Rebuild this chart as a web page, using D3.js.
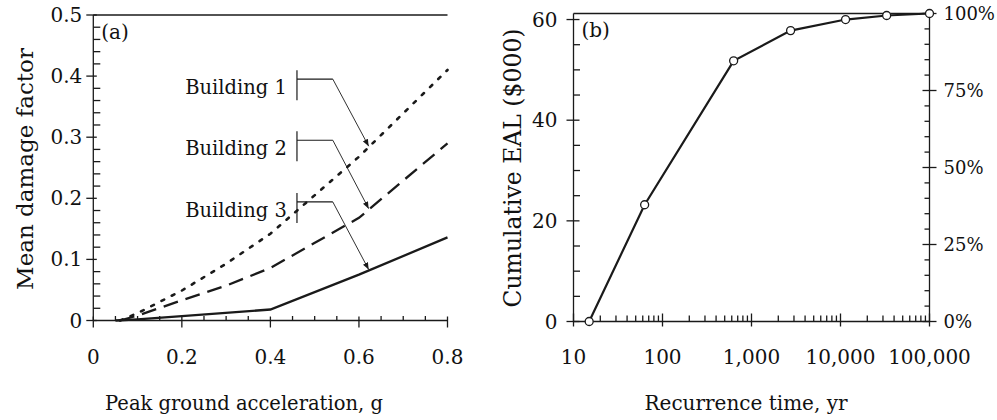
<!DOCTYPE html>
<html><head><meta charset="utf-8">
<script src="https://cdn.jsdelivr.net/npm/d3@7"></script>
<style>
body{margin:0;background:#fff}
text{font-family:"DejaVu Serif",serif;fill:#111}
</style></head><body>
<svg id="c" width="997" height="420"></svg>
<script>
// ---- data ----
const pgaB1 = [0.06, 0.1, 0.2, 0.3, 0.4, 0.6, 0.8];
const mdfB1 = [0, 0.012, 0.049, 0.093, 0.142, 0.268, 0.41];
const pgaB2 = [0.06, 0.1, 0.2, 0.3, 0.4, 0.6, 0.8];
const mdfB2 = [0, 0.008, 0.033, 0.057, 0.086, 0.168, 0.29];
const pgaB3 = [0.05, 0.1, 0.2, 0.4, 0.6, 0.8];
const mdfB3 = [0, 0.002, 0.007, 0.018, 0.075, 0.136];
const buildingLabels = ["Building 1", "Building 2", "Building 3"];
const recurrence = [15, 63, 630, 2750, 11400, 33000, 100000];
const cumEAL = [0, 23.2, 51.8, 57.8, 60.0, 60.8, 61.2];
const xTicksA = [0, 0.2, 0.4, 0.6, 0.8];
const yTicksA = [0, 0.1, 0.2, 0.3, 0.4, 0.5];
const xTicksB = [10, 100, 1000, 10000, 100000];
const yTicksB = [0, 20, 40, 60];
const pctTicks = [0, 25, 50, 75, 100];

const svg = d3.select("#c");
const ink = "#1a1a1a";

// ---- scales ----
const xA = d3.scaleLinear([0, 0.8], [93.3, 447.5]);
const yA = d3.scaleLinear([0, 0.5], [320.5, 15]);
const xB = d3.scaleLog([10, 100000], [573.5, 929.5]);
const yB = d3.scaleLinear([0, 61.2], [321.5, 13.5]);
const pB = d3.scaleLinear([0, 100], [321.5, 13.5]);

function line(x1, y1, x2, y2, w) {
  svg.append("line").attr("x1", x1).attr("y1", y1).attr("x2", x2).attr("y2", y2)
    .attr("stroke", ink).attr("stroke-width", w || 1.3);
}
function yTicks(scale, vals, xpos, dir, out, inn) {
  vals.forEach(v => line(xpos + dir * out, scale(v), xpos - dir * inn, scale(v)));
}
function xTicks(scale, vals, ypos, out, inn) {
  vals.forEach(v => line(scale(v), ypos + out, scale(v), ypos - inn));
}
function txt(x, y, s, anchor, size) {
  return svg.append("text").attr("x", x).attr("y", y).attr("text-anchor", anchor)
    .attr("font-size", size).text(s);
}

// ================= Panel (a) =================
const minorA_y = d3.range(0, 0.5001, 0.02).filter(v => Math.abs(v * 10 - Math.round(v * 10)) > 1e-6);
const minorA_x = d3.range(0, 0.8001, 0.05).filter(v => Math.abs(v * 5 - Math.round(v * 5)) > 1e-6);
line(xA(0), yA(0), xA(0), yA(0.5));
line(xA(0), yA(0.5), xA(0.8), yA(0.5));
line(xA(0), yA(0), xA(0.8), yA(0));
yTicks(yA, yTicksA, xA(0), -1, 7, 3.5);
yTicks(yA, minorA_y, xA(0), -1, 0, 7);
xTicks(xA, xTicksA, yA(0), 7, 4);
xTicks(xA, minorA_x, yA(0), 0, 4.5);
yTicksA.forEach(v => txt(xA(0) - 11, yA(v), v === 0 ? "0" : d3.format(".1f")(v), "end", 20).attr("dy", "0.35em"));
xTicksA.forEach(v => txt(xA(v), 357, v === 0 ? "0" : d3.format(".1f")(v), "middle", 20).attr("dy", "0.35em"));
txt(xA(0) + 8, 32, "(a)", "start", 20).attr("dy", "0.35em");

const seriesA = [
  {x: pgaB1, y: mdfB1, dash: "3,8.5", w: 2.6},
  {x: pgaB2, y: mdfB2, dash: "15,8", w: 2.3},
  {x: pgaB3, y: mdfB3, dash: null, w: 2.3}
];
const lineA = d3.line().x(d => xA(d[0])).y(d => yA(d[1]));
seriesA.forEach(s => {
  svg.append("path").attr("d", lineA(d3.zip(s.x, s.y))).attr("fill", "none")
    .attr("stroke", ink).attr("stroke-width", s.w)
    .attr("stroke-dasharray", s.dash).attr("stroke-linecap", s.dash && s.dash.startsWith("3") ? "round" : "butt");
});

// annotations (positions in data units of panel a)
svg.append("defs").append("marker").attr("id", "ah").attr("viewBox", "0 0 10 10")
  .attr("refX", 10).attr("refY", 5).attr("markerWidth", 7).attr("markerHeight", 7)
  .attr("orient", "auto").attr("markerUnits", "userSpaceOnUse")
  .append("path").attr("d", "M0,1 L10,5 L0,9 z").attr("fill", ink);
const bracketY = [0.395, 0.295, 0.194];
const bracketX = 0.46, elbowX = 0.541, tipX = 0.622;
seriesA.forEach((s, i) => {
  const by = yA(bracketY[i]);
  const tipY = yA(d3.scaleLinear(s.x, s.y)(tipX));
  line(xA(bracketX), by - 9, xA(bracketX), by + 21, 1.2);
  line(xA(bracketX), by, xA(elbowX), by, 1.2);
  svg.append("line").attr("x1", xA(elbowX)).attr("y1", by).attr("x2", xA(tipX)).attr("y2", tipY - 1)
    .attr("stroke", ink).attr("stroke-width", 0.9).attr("marker-end", "url(#ah)");
  txt(xA(bracketX) - 10, by + 15, buildingLabels[i], "end", 19.5);
});

// axis titles
txt(244, 410, "Peak ground acceleration, g", "middle", 19.5);
txt(0, 0, "Mean damage factor", "middle", 23).attr("transform", "translate(33,169) rotate(-90)");

// ================= Panel (b) =================
line(xB(10), yB(0), xB(10), pB(100));
line(xB(10), pB(100), xB(100000), pB(100));
line(xB(10), yB(0), xB(100000), yB(0));
line(xB(100000), pB(0), xB(100000), pB(100));
const minorB_y = d3.range(0, 61, 5).filter(v => v % 20 !== 0);
const minorP = d3.range(0, 101, 5).filter(v => v % 25 !== 0);
const minorB_x = [];
[10, 100, 1000, 10000].forEach(d => d3.range(2, 10).forEach(k => minorB_x.push(d * k)));
yTicks(yB, yTicksB, xB(10), -1, 7, 6);
yTicks(yB, minorB_y, xB(10), -1, 0, 6.5);
yTicks(pB, pctTicks, xB(100000), 1, 7, 7);
yTicks(pB, minorP, xB(100000), 1, 0, 5);
xTicks(xB, xTicksB, yB(0), 5, 8);
xTicks(xB, minorB_x, yB(0), 0, 6);
yTicksB.forEach(v => txt(xB(10) - 16, yB(v), String(v), "end", 20).attr("dy", "0.35em"));
pctTicks.forEach(v => txt(xB(100000) + 14, pB(v), v + "%", "start", 18).attr("dy", "0.35em"));
xTicksB.forEach(v => txt(xB(v), 357, d3.format(",")(v), "middle", 20).attr("dy", "0.35em"));
txt(xB(10) + 8, 30, "(b)", "start", 20).attr("dy", "0.35em");

const lineB = d3.line().x(d => xB(d[0])).y(d => yB(d[1]));
const ptsB = d3.zip(recurrence, cumEAL);
svg.append("path").attr("d", lineB(ptsB)).attr("fill", "none").attr("stroke", ink).attr("stroke-width", 2.2);
svg.selectAll("circle.pt").data(ptsB).join("circle").attr("class", "pt")
  .attr("cx", d => xB(d[0])).attr("cy", d => yB(d[1])).attr("r", 4)
  .attr("fill", "#fff").attr("stroke", ink).attr("stroke-width", 1.3);

txt(746, 410, "Recurrence time, yr", "middle", 20);
txt(0, 0, "Cumulative EAL ($000)", "middle", 23.5).attr("transform", "translate(521,168) rotate(-90)");
</script></body></html>
